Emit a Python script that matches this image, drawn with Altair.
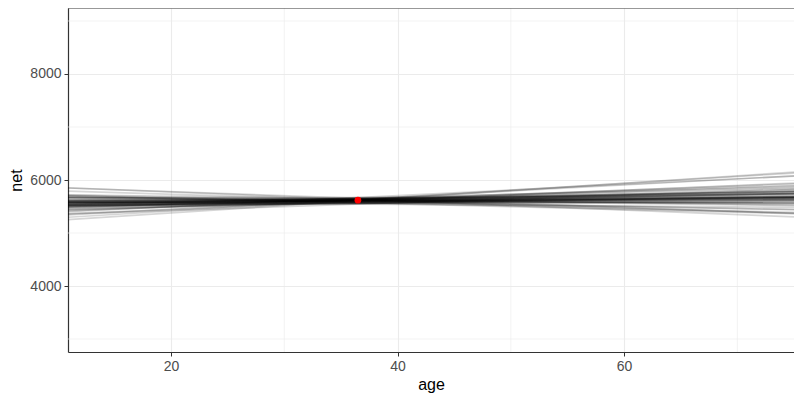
import altair as alt
import pandas as pd

# Line end-points (net at the left and right edge of the age range)
age_range = [10.9, 75.7]
left_net = [5297, 5252, 5401, 5365, 5415, 5361, 5473, 5434, 5489, 5532,
            5450, 5502, 5525, 5500, 5555, 5474, 5543, 5534, 5569, 5521,
            5512, 5607, 5532, 5563, 5566, 5613, 5523, 5606, 5580, 5615,
            5585, 5665, 5567, 5624, 5663, 5620, 5650, 5587, 5676, 5678,
            5721, 5674, 5716, 5699, 5790, 5850, 5849, 5545, 5592, 5498,
            5586, 5556, 5588, 5586, 5579, 5518, 5516, 5438, 5699, 5341]
right_net = [6140, 6159, 6082, 5948, 5934, 5827, 5901, 5823, 5846, 5863,
             5754, 5788, 5791, 5746, 5782, 5687, 5744, 5722, 5744, 5683,
             5661, 5743, 5656, 5680, 5670, 5704, 5601, 5671, 5631, 5654,
             5611, 5678, 5567, 5604, 5625, 5562, 5572, 5483, 5547, 5516,
             5526, 5441, 5437, 5362, 5369, 5299, 5363, 5674, 5689, 5680,
             5644, 5789, 5581, 5741, 5650, 5777, 5626, 5891, 5388, 6086]

point_age = [36.5]
point_net = [5620]

x_major = [20, 40, 60]
x_minor = [10, 30, 50, 70]
y_major = [4000, 6000, 8000]
y_minor = [3000, 5000, 7000, 9000]

rows = []
for i, (l, r) in enumerate(zip(left_net, right_net)):
    rows.append({"draw": i, "age": age_range[0], "net": l})
    rows.append({"draw": i, "age": age_range[1], "net": r})
lines_df = pd.DataFrame(rows)

W = 726
H = 344
x_scale = alt.Scale(domain=[10.905, 75.0], nice=False, zero=False)
y_scale = alt.Scale(domain=[2755, 9245], nice=False, zero=False)

FONT = "Liberation Sans"

x_axis = alt.Axis(values=x_major, title="age", format="d", grid=True,
                  gridColor="#EBEBEB", gridWidth=1.1,
                  domain=True, domainColor="#333333", domainWidth=1.2,
                  tickColor="#333333", tickSize=4, tickWidth=1,
                  labelColor="#4D4D4D", labelFontSize=14, labelFont=FONT,
                  labelPadding=3, titleFont=FONT, titleFontSize=16,
                  titleFontWeight="normal", titleColor="black", titlePadding=3)
y_axis = alt.Axis(values=y_major, title="net", format="d", grid=True,
                  gridColor="#EBEBEB", gridWidth=1.1,
                  domain=True, domainColor="#333333", domainWidth=1.2,
                  tickColor="#333333", tickSize=4, tickWidth=1,
                  labelColor="#4D4D4D", labelFontSize=14, labelFont=FONT,
                  labelPadding=3, titleFont=FONT, titleFontSize=16,
                  titleFontWeight="normal", titleColor="black", titlePadding=5)

minor_x = alt.Chart(pd.DataFrame({"age": x_minor})).mark_rule(
    color="#EBEBEB", strokeWidth=0.6, clip=True
).encode(x=alt.X("age:Q", scale=x_scale, axis=x_axis))

minor_y = alt.Chart(pd.DataFrame({"net": y_minor})).mark_rule(
    color="#EBEBEB", strokeWidth=0.6, clip=True
).encode(y=alt.Y("net:Q", scale=y_scale, axis=y_axis))

lines = alt.Chart(lines_df).mark_line(
    color="black", opacity=0.16, strokeWidth=1.7, clip=True
).encode(
    x=alt.X("age:Q", scale=x_scale, axis=x_axis),
    y=alt.Y("net:Q", scale=y_scale, axis=y_axis),
    detail="draw:N",
)

point = alt.Chart(pd.DataFrame({"age": point_age, "net": point_net})).mark_circle(
    color="#FF0000", size=45, opacity=1
).encode(
    x=alt.X("age:Q", scale=x_scale, axis=x_axis),
    y=alt.Y("net:Q", scale=y_scale, axis=y_axis),
)

# top edge of the panel frame (the right edge lies outside the picture)
top_border = alt.Chart(pd.DataFrame({"k": [0]})).mark_rule(
    color="#333333", strokeWidth=1.2
).encode(x=alt.value(0), x2=alt.value(W), y=alt.value(0))

chart = alt.layer(minor_x, minor_y, lines, point, top_border).properties(
    width=W,
    height=H,
    background="white",
    autosize=alt.AutoSizeParams(type="none"),
    padding={"left": 60, "top": 0, "right": 0, "bottom": 45},
).configure_view(
    strokeWidth=0
)

chart.save("out.html", embed_options={"renderer": "svg", "actions": False})
